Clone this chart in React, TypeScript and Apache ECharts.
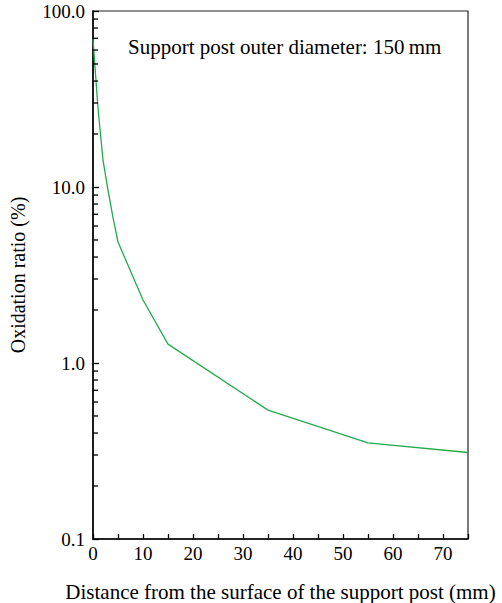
import React, { useEffect, useRef } from "react";
import * as echarts from "echarts";

const distances = [0, 1, 2, 3, 4, 5, 10, 15, 35, 55, 75];
const oxidationRatio = [69, 28, 14.2, 9.6, 6.7, 4.87, 2.28, 1.28, 0.54, 0.352, 0.31];
const yMinorTickValues = [0.2, 0.3, 0.4, 0.5, 0.6, 0.7, 0.8, 0.9, 2, 3, 4, 5, 6, 7, 8, 9, 20, 30, 40, 50, 60, 70, 80, 90];
const annotationText = "Support post outer diameter: 150\u2009mm";
const xAxisName = "Distance from the surface of the support post (mm)";
const yAxisName = "Oxidation ratio (%)";

const FONT = "'Liberation Serif', 'Times New Roman', serif";

export default function App() {
  const ref = useRef<HTMLDivElement>(null);
  useEffect(() => {
    if (!ref.current) return;
    const chart = echarts.init(ref.current, null, { renderer: "svg" });
    chart.setOption({
      animation: false,
      backgroundColor: "#ffffff",
      textStyle: { fontFamily: FONT, color: "#000" },
      grid: {
        left: 93,
        top: 11,
        right: 34,
        bottom: 64,
        containLabel: false,
        outerBoundsMode: "none",
        show: true,
        borderColor: "#222",
        borderWidth: 1.2,
        backgroundColor: "transparent",
      },
      xAxis: {
        type: "value",
        min: 0,
        max: 75,
        interval: 10,
        name: xAxisName,
        nameLocation: "middle",
        nameGap: 42,
        nameTextStyle: { fontFamily: FONT, fontSize: 21, color: "#000" },
        axisLine: { show: true, onZero: false, lineStyle: { color: "#000", width: 1.5 } },
        axisTick: { show: true, inside: true, length: 5, lineStyle: { color: "#000", width: 1.3 } },
        minorTick: { show: true, splitNumber: 2, length: 5, lineStyle: { color: "#000", width: 1.3 } },
        axisLabel: { fontFamily: FONT, fontSize: 19, color: "#000", margin: 5, showMaxLabel: false },
        splitLine: { show: false },
        minorSplitLine: { show: false },
      },
      yAxis: {
        type: "log",
        logBase: 10,
        min: 0.1,
        max: 100,
        name: yAxisName,
        nameLocation: "middle",
        nameGap: 65,
        nameTextStyle: { fontFamily: FONT, fontSize: 20, color: "#000" },
        axisLine: { show: true, lineStyle: { color: "#000", width: 1.5 } },
        axisTick: { show: true, inside: true, length: 6, lineStyle: { color: "#000", width: 1.3 } },
        axisLabel: {
          fontFamily: FONT,
          fontSize: 19,
          color: "#000",
          margin: 8,
          formatter: (v: number) => v.toFixed(1),
        },
        splitLine: { show: false },
      },
      graphic: [
        {
          type: "text",
          left: 128,
          top: 36,
          style: { text: annotationText, font: `21px ${FONT}`, fill: "#000" },
        },
      ],
      series: [
        {
          type: "line",
          data: distances.map((d, i) => [d, oxidationRatio[i]]),
          showSymbol: false,
          symbol: "none",
          lineStyle: { color: "#22aa4c", width: 1.3 },
          silent: true,
          z: 3,
        },
        {
          type: "custom",
          silent: true,
          clip: false,
          z: 4,
          data: yMinorTickValues.map((v) => [0, v]),
          encode: { x: 0, y: 1 },
          renderItem: (params: any, api: any) => {
            const p = api.coord([0, api.value(1)]);
            return {
              type: "line",
              shape: { x1: p[0], y1: p[1], x2: p[0] + 5, y2: p[1] },
              style: { stroke: "#000", lineWidth: 1.3 },
            };
          },
        },
      ],
    });
    return () => chart.dispose();
  }, []);
  return (
    <div
      ref={ref}
      style={{ position: "absolute", left: 0, top: 0, width: 502, height: 603 }}
    />
  );
}
